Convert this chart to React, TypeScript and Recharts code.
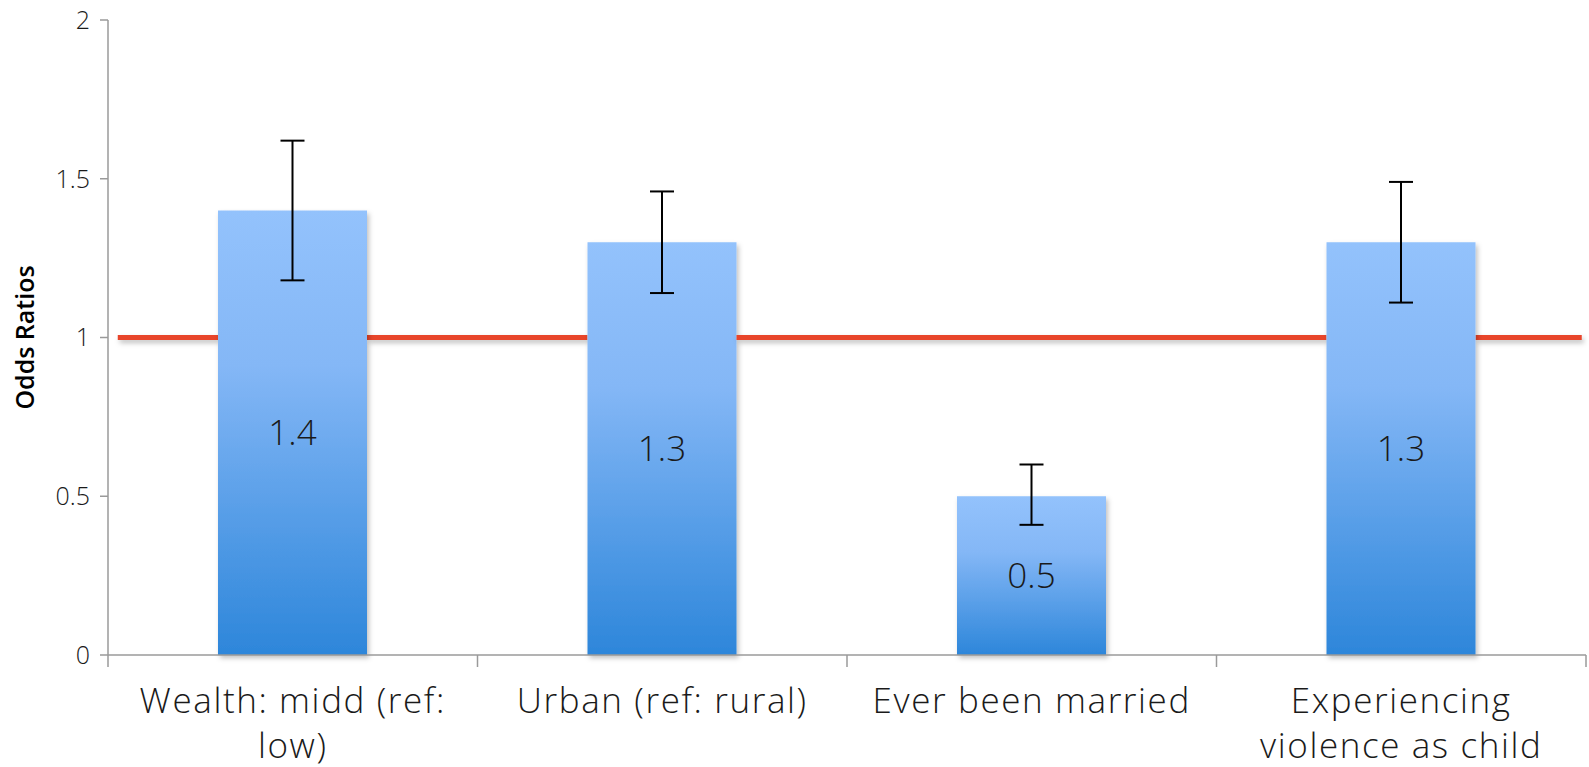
import React from 'react';
import {
  ComposedChart,
  Bar,
  XAxis,
  YAxis,
  ErrorBar,
  LabelList,
} from 'recharts';

const categories = [
  'Wealth: midd (ref: low)',
  'Urban (ref: rural)',
  'Ever been married',
  'Experiencing violence as child',
];
const tickLines = [
  ['Wealth: midd (ref:', 'low)'],
  ['Urban (ref: rural)'],
  ['Ever been married'],
  ['Experiencing', 'violence as child'],
];
const oddsRatios = [1.4, 1.3, 0.5, 1.3];
const ciLower = [1.18, 1.14, 0.41, 1.11];
const ciUpper = [1.62, 1.46, 0.6, 1.49];
const yTicks = [0, 0.5, 1, 1.5, 2];
const referenceOdds = 1;

const data = categories.map((name, i) => ({
  name,
  value: oddsRatios[i],
  err: [
    +(oddsRatios[i] - ciLower[i]).toFixed(3),
    +(ciUpper[i] - oddsRatios[i]).toFixed(3),
  ],
}));

const WIDTH = 1589;
const HEIGHT = 767;
const MARGIN = { top: 20, right: 3, bottom: 0, left: 0 };
const Y_AXIS_WIDTH = 108;
const X_AXIS_HEIGHT = 112;
const BAR_SIZE = 149;
const BAND = (WIDTH - MARGIN.left - MARGIN.right - Y_AXIS_WIDTH) / categories.length;
const FONT = '"Open Sans", sans-serif';
const AXIS_COLOR = '#9a9a9a';

function CategoryTick(props: any) {
  const { x, y, payload, index } = props;
  const i0 = index ?? payload.index;
  const lines = tickLines[i0] || [payload.value];
  const last = i0 === categories.length - 1;
  return (
    <g>
      <line x1={x - BAND / 2} y1={y} x2={x - BAND / 2} y2={y + 12} stroke={AXIS_COLOR} strokeWidth={1.5} />
      {last && (
        <line x1={x + BAND / 2} y1={y} x2={x + BAND / 2} y2={y + 12} stroke={AXIS_COLOR} strokeWidth={1.5} />
      )}
      {lines.map((line: string, i: number) => (
        <text
          key={i}
          x={x}
          y={y + 58 + i * 45}
          textAnchor="middle"
          fontFamily={FONT}
          fontWeight={300}
          fontSize={35}
          letterSpacing={1.6}
          fill="#1a1a1a"
        >
          {line}
        </text>
      ))}
    </g>
  );
}

// Each bar draws the pieces of the odds = 1 line that lie in the gaps next to it
// (or across it when the bar is shorter than the line), so the line never crosses a bar.
function BarWithReference(props: any) {
  const { x, y, width, height, payload, index, fill } = props;
  const last = categories.length - 1;
  const v = payload.value;
  const baseY = y + height;
  const refY = baseY - (referenceOdds * height) / v;
  const half = (BAND - width) / 2;
  const firstStart = x - half + 10;
  const lastEnd = x + width + half - 4;
  const nextBar = x + BAND;
  const prevBarEnd = x - BAND + width;
  const segs: [number, number][] = [];
  if (v <= referenceOdds) {
    segs.push([index === 0 ? firstStart : prevBarEnd, index === last ? lastEnd : nextBar]);
  } else {
    if (index === 0) segs.push([firstStart, x]);
    const ownsRight = index === last || oddsRatios[index + 1] > referenceOdds;
    if (ownsRight) segs.push([x + width, index === last ? lastEnd : nextBar]);
  }
  return (
    <g>
      {segs.map(([a, b], i) => (
        <rect
          key={i}
          x={a}
          y={refY - 2.5}
          width={b - a}
          height={5}
          fill="#e8452c"
          filter="url(#lineShadow)"
        />
      ))}
      <rect x={x} y={y} width={width} height={height} fill={fill} filter="url(#barShadow)" />
    </g>
  );
}

export default function App() {
  return (
    <div style={{ position: 'absolute', left: 0, top: 0, background: '#fff' }}>
      <ComposedChart width={WIDTH} height={HEIGHT} data={data} margin={MARGIN}>
        <defs>
          <linearGradient id="barGradient" x1="0" y1="0" x2="0" y2="1">
            <stop offset="0%" stopColor="#93c2fc" />
            <stop offset="35%" stopColor="#84b7f6" />
            <stop offset="100%" stopColor="#2d86da" />
          </linearGradient>
          <filter id="barShadow" x="-10%" y="-10%" width="130%" height="130%">
            <feDropShadow dx="2" dy="3" stdDeviation="2.5" floodColor="#000" floodOpacity="0.25" />
          </filter>
          <filter id="lineShadow" x="-10%" y="-100%" width="130%" height="400%">
            <feDropShadow dx="2" dy="3" stdDeviation="2.5" floodColor="#000" floodOpacity="0.25" />
          </filter>
        </defs>
        <XAxis
          dataKey="name"
          axisLine={{ stroke: AXIS_COLOR, strokeWidth: 1.5 }}
          tickLine={false}
          tickSize={0}
          tickMargin={0}
          height={X_AXIS_HEIGHT}
          interval={0}
          tick={<CategoryTick />}
        />
        <YAxis
          domain={[0, 2]}
          ticks={yTicks}
          width={Y_AXIS_WIDTH}
          axisLine={{ stroke: AXIS_COLOR, strokeWidth: 1.5 }}
          tickLine={{ stroke: AXIS_COLOR, strokeWidth: 1.5 }}
          tickSize={8}
          tickMargin={10}
          tick={{ fontFamily: FONT, fontWeight: 300, fontSize: 25, fill: '#1a1a1a' }}
          label={{
            content: (p: any) => (
              <text
                x={24}
                y={p.viewBox.y + p.viewBox.height / 2}
                transform={`rotate(-90, 24, ${p.viewBox.y + p.viewBox.height / 2})`}
                textAnchor="middle"
                dominantBaseline="central"
                fontFamily={FONT}
                fontWeight={600}
                fontSize={25}
                fill="#000"
              >
                Odds Ratios
              </text>
            ),
          }}
        />
        <Bar
          dataKey="value"
          barSize={BAR_SIZE}
          fill="url(#barGradient)"
          shape={BarWithReference}
          isAnimationActive={false}
        >
          <ErrorBar dataKey="err" width={12} stroke="#000" strokeWidth={2} direction="y" />
          <LabelList
            dataKey="value"
            position="center"
            fontFamily={FONT}
            fontWeight={300}
            fontSize={35}
            fill="#1a1a1a"
          />
        </Bar>
      </ComposedChart>
    </div>
  );
}
